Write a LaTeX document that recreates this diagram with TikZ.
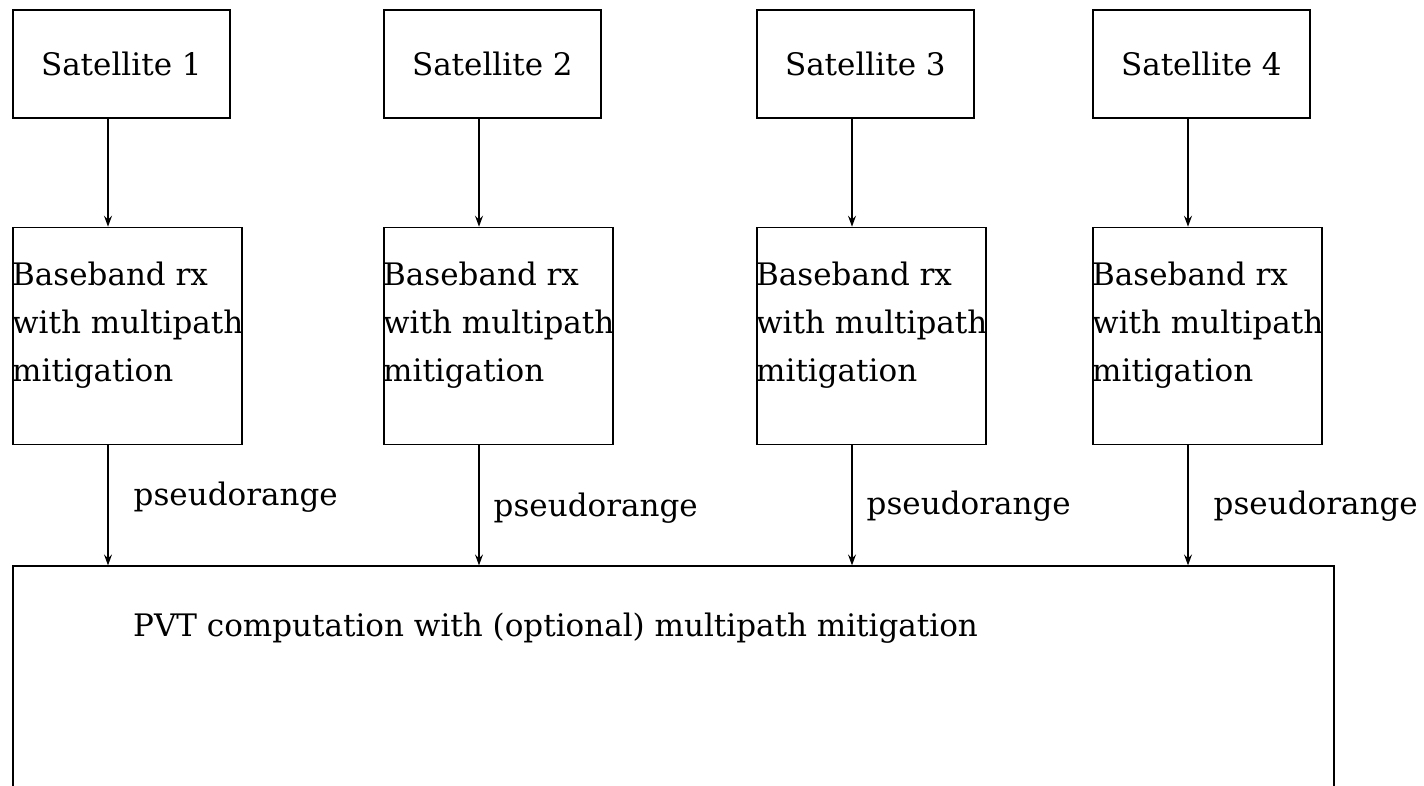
\documentclass[tikz,border=0pt]{standalone}
\usepackage{fontspec}
\setmainfont{DejaVu Serif}
\usepackage{tikz}
\usetikzlibrary{positioning}
\usetikzlibrary{calc}
\usetikzlibrary{arrows.meta}

\tikzset{
    bigfont/.style={font=\fontsize{31}{48}\selectfont},
    satbox/.style={draw, line width=1.7pt, minimum width=217pt, minimum height=108pt, inner sep=0pt, bigfont},
    rxbox/.style={draw, line width=1.7pt, minimum width=229pt, minimum height=217pt, inner sep=0pt},
    pvtbox/.style={draw, line width=1.7pt, minimum width=1321pt, minimum height=300pt, inner sep=0pt},
    boxtext/.style={inner sep=0pt, align=left, bigfont},
    sig/.style={-{Stealth[length=11pt,width=8pt,inset=4pt]}, line width=1.4pt}
}

\begin{document}
\begin{tikzpicture}[x=1pt, y=-1pt]
    \useasboundingbox (0,0) rectangle (1424,786);
    \clip (0,0) rectangle (1424,786);

    \foreach \i/\x in {1/12,2/383,3/756,4/1092}{
        \node [satbox, anchor=north west] (sat\i) at (\x,9) {Satellite \i};
        \node [rxbox, below=108pt of sat\i.south west, anchor=north west,
            label={[boxtext, anchor=north west, yshift=-35pt]north west:{Baseband rx\\with multipath\\mitigation}}] (rx\i) {};
    }

    \node [pvtbox, below=120pt of rx1.south west, anchor=north west,
        label={[boxtext, anchor=base west, xshift=121pt, yshift=-71pt]north west:{PVT computation with (optional) multipath mitigation}}] (pvt) {};

    \foreach \i in {1,...,4}{
        \draw [sig] ([xshift=96pt]sat\i.south west) -- ([xshift=96pt]rx\i.north west);
    }

    \foreach \i/\p/\d in {1/0.43/25,2/0.52/14,3/0.51/14,4/0.51/25}{
        \draw [sig] ([xshift=96pt]rx\i.south west) -- ($(rx\i.south west |- pvt.north)+(96pt,0)$)
            node [boxtext, pos=\p, right=\d pt] {pseudorange};
    }
\end{tikzpicture}
\end{document}
